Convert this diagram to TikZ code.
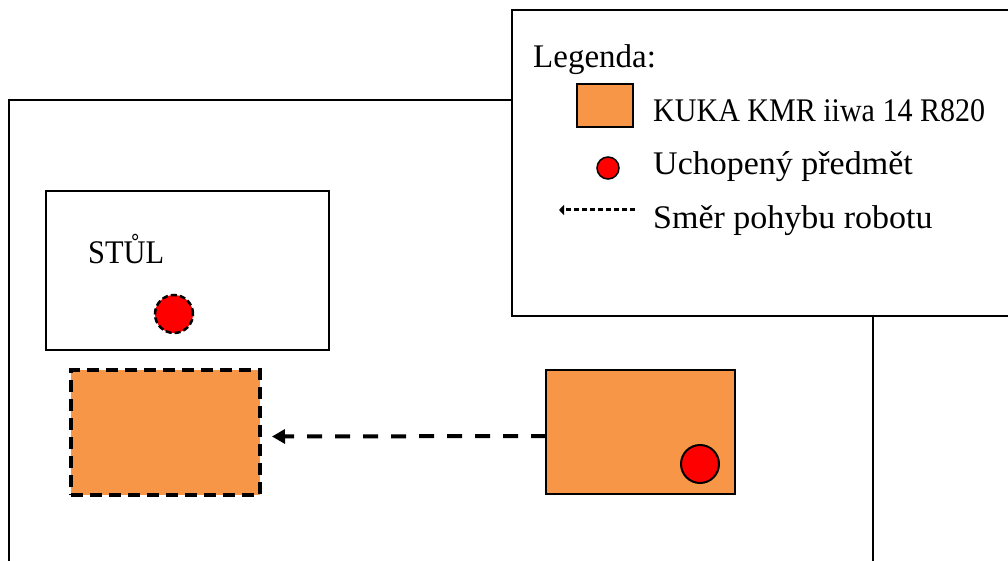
\documentclass[tikz,border=0pt]{standalone}
\usepackage{fontspec}
\setmainfont{Liberation Serif}
\usetikzlibrary{arrows.meta}
\definecolor{kuka}{HTML}{F79646}
\newcommand{\hfit}[2]{\scalebox{#1}[1]{#2}}
\begin{document}
\begin{tikzpicture}[x=1pt,y=-1pt,
  wall/.style={draw=black, line width=2pt},
  box/.style={rectangle, draw=black, line width=2pt, inner sep=0pt, outer sep=0pt, anchor=north west},
  robotbox/.style={box, fill=kuka},
  ghostbox/.style={rectangle, fill=kuka, draw=black, line width=4pt, dash pattern=on 12pt off 7pt, inner sep=0pt, outer sep=0pt, anchor=north west},
  object/.style={circle, fill=red, draw=black, line width=2pt, inner sep=0pt, outer sep=0pt},
  lbl/.style={anchor=base west, inner sep=0pt, font=\fontsize{33}{36}\selectfont},
  move/.style={line width=4pt, dash pattern=on 15pt off 13pt, -{Triangle[length=13pt,width=14pt]}}
]
\useasboundingbox (0,0) rectangle (1008,561);
% room walls
\draw[wall] (9,600) -- (9,100) -- (873,100) -- (873,600);
% legend frame
\draw[wall, fill=white] (1030,10) -- (512,10) -- (512,316) -- (1030,316);
% table
\node[box, minimum width=283pt, minimum height=159pt] (table) at (46,191) {};
\node[lbl] (stul) at (88,263) {\hfit{0.92}{STŮL}};
\node[object, line width=2.5pt, dash pattern=on 6pt off 3pt, minimum size=38pt] (obj1) at (174,314) {};
% robots
\node[ghostbox, minimum width=189pt, minimum height=125pt] (ghost) at (71,370) {};
\node[robotbox, minimum width=189pt, minimum height=124pt] (robot) at (546,370) {};
\node[object, minimum size=38pt] (obj2) at (700,464) {};
\draw[move] ([yshift=-4pt]robot.west) -- ([yshift=-4pt,xshift=12pt]ghost.east);
% legend
\node[lbl] (legtitle) at (533,68) {Legenda:};
\node[robotbox, minimum width=56pt, minimum height=43pt] (legrobot) at (577,84) {};
\node[lbl] (legrobottxt) at (653,122) {\hfit{0.91}{KUKA KMR iiwa 14 R820}};
\node[object, line width=1.5pt, minimum size=22pt] (legobj) at (608,168) {};
\node[lbl] (legobjtxt) at (653,175) {\hfit{1.03}{Uchopený předmět}};
\coordinate (legarrA) at (635,210);
\coordinate (legarrB) at (559,210);
\draw[line width=3pt, dash pattern=on 5pt off 3pt, -{Triangle[length=5pt,width=10pt]}] (legarrA) -- (legarrB);
\node[lbl] (legarrtxt) at (653,229) {\hfit{1.03}{Směr pohybu robotu}};
\end{tikzpicture}
\end{document}
